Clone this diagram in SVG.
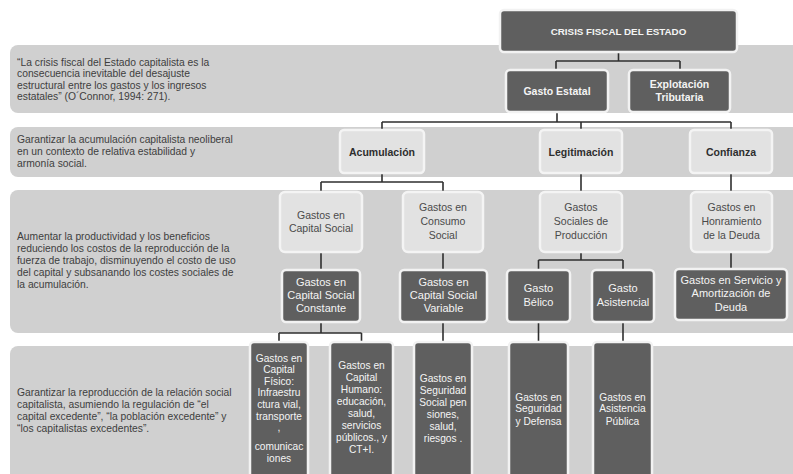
<svg xmlns="http://www.w3.org/2000/svg" width="793" height="474" viewBox="0 0 793 474">
<style>
.band{fill:#d0d0d0}
.lt{font-family:"Liberation Sans",Arial,sans-serif;font-size:10.3px;fill:#3e3e3e}
.dark rect{fill:#5f5f5f;stroke:#f2f2f2;stroke-width:2.5}
.light rect{fill:#e2e2e2;stroke:#f4f4f4;stroke-width:2.5}
.dark text{font-family:"Liberation Sans",Arial,sans-serif;font-size:11px;fill:#f4f4f4;text-anchor:middle}
.light text{font-family:"Liberation Sans",Arial,sans-serif;font-size:10.5px;fill:#4a4a4a;text-anchor:middle}
.b text{font-weight:bold;font-size:10.5px}
.light.b text{fill:#2e2e2e}
.sm text{font-size:10.2px}
#connectors path{fill:none;stroke:#2f2f2f;stroke-width:1.6}
</style>
<rect width="793" height="474" fill="#ffffff"/>
<g id="bands">
<rect class="band" x="10" y="45" width="800" height="68" rx="8"/>
<rect class="band" x="10" y="127" width="800" height="50" rx="8"/>
<rect class="band" x="10" y="190" width="800" height="143" rx="8"/>
<rect class="band" x="10" y="346" width="800" height="140" rx="8"/>
</g>
<g id="band-texts">
<text class="lt" x="17" y="65.5">“La crisis fiscal del Estado capitalista es la</text>
<text class="lt" x="17" y="77">consecuencia inevitable del desajuste</text>
<text class="lt" x="17" y="88.5">estructural entre los gastos y los ingresos</text>
<text class="lt" x="17" y="100">estatales” (O´Connor, 1994: 271).</text>
<text class="lt" x="17" y="142.5">Garantizar la acumulación capitalista neoliberal</text>
<text class="lt" x="17" y="154.5">en un contexto de  relativa estabilidad y</text>
<text class="lt" x="17" y="166.5">armonía social.</text>
<text class="lt" x="17" y="239.5">Aumentar la productividad y los beneficios</text>
<text class="lt" x="17" y="251.5">reduciendo los costos de la reproducción de la</text>
<text class="lt" x="17" y="263.5">fuerza de trabajo, disminuyendo el costo de uso</text>
<text class="lt" x="17" y="275.5">del capital y subsanando los costes sociales  de</text>
<text class="lt" x="17" y="287.5">la acumulación.</text>
<text class="lt" x="17" y="395.5">Garantizar la reproducción de la relación social</text>
<text class="lt" x="17" y="407.5">capitalista, asumiendo la regulación de  “el</text>
<text class="lt" x="17" y="419.5">capital excedente”,  “la población excedente” y</text>
<text class="lt" x="17" y="431.5">“los capitalistas excedentes”.</text>
</g>
<g id="connectors">
<path d="M618.5 52V61M556 61H680M556 61V70M680 61V70"/>
<path d="M557 112V122M382 122H731M382 122V130M581 122V130M731 122V130"/>
<path d="M382 173V182M321 182H443M321 182V192M443 182V192"/>
<path d="M581 173V192"/>
<path d="M731 173V192"/>
<path d="M321 252V270M443 252V270"/>
<path d="M581 252V260M538.5 260H623M538.5 260V270M623 260V270"/>
<path d="M731 252V269"/>
<path d="M321 322V333M279 333H361.5M279 333V342M361.5 333V342"/>
<path d="M443 322V342"/>
<path d="M538.5 322V342"/>
<path d="M623 322V342"/>
</g>
<g id="crisis" class="dark b"><rect x="500" y="10" width="237" height="42" rx="4"/><text x="618.5" y="34.5" style="font-size:9.8px">CRISIS FISCAL DEL ESTADO</text></g>
<g id="gasto-estatal" class="dark b"><rect x="506" y="70" width="102" height="42" rx="4"/><text x="557" y="94.5">Gasto Estatal</text></g>
<g id="explotacion" class="dark b"><rect x="629" y="70" width="101" height="42" rx="4"/><text x="679.5" y="87.5">Explotación</text><text x="679.5" y="100.5">Tributaria</text></g>
<g id="acumulacion" class="light b"><rect x="340" y="130" width="84" height="43" rx="4"/><text x="382" y="155.5">Acumulación</text></g>
<g id="legitimacion" class="light b"><rect x="540" y="130" width="82" height="43" rx="4"/><text x="581" y="155.5">Legitimación</text></g>
<g id="confianza" class="light b"><rect x="690" y="130" width="82" height="43" rx="4"/><text x="731" y="155.5">Confianza</text></g>
<g id="capital-social" class="light"><rect x="280" y="192" width="82" height="60" rx="5"/><text x="321" y="218.5">Gastos en</text><text x="321" y="231.5">Capital Social</text></g>
<g id="consumo-social" class="light"><rect x="403" y="192" width="80" height="60" rx="5"/><text x="443" y="210.5">Gastos en</text><text x="443" y="224.5">Consumo</text><text x="443" y="238.5">Social</text></g>
<g id="sociales-produccion" class="light"><rect x="540" y="192" width="82" height="60" rx="5"/><text x="581" y="210.5">Gastos</text><text x="581" y="224.5">Sociales de</text><text x="581" y="238.5">Producción</text></g>
<g id="honramiento" class="light"><rect x="691" y="192" width="81" height="60" rx="5"/><text x="731.5" y="210.5">Gastos en</text><text x="731.5" y="224.5">Honramiento</text><text x="731.5" y="238.5">de la Deuda</text></g>
<g id="constante" class="dark"><rect x="282" y="270" width="78" height="52" rx="4"/><text x="321" y="285.5">Gastos en</text><text x="321" y="298.5">Capital Social</text><text x="321" y="311.5">Constante</text></g>
<g id="variable" class="dark"><rect x="400" y="270" width="87" height="52" rx="4"/><text x="443.5" y="285.5">Gastos en</text><text x="443.5" y="298.5">Capital Social</text><text x="443.5" y="311.5">Variable</text></g>
<g id="belico" class="dark"><rect x="507" y="270" width="63" height="52" rx="4"/><text x="538.5" y="291.5">Gasto</text><text x="538.5" y="305.5">Bélico</text></g>
<g id="asistencial" class="dark"><rect x="592" y="270" width="62" height="52" rx="4"/><text x="623" y="291.5">Gasto</text><text x="623" y="305.5">Asistencial</text></g>
<g id="servicio-deuda" class="dark"><rect x="675" y="269" width="112" height="51" rx="4"/><text x="731" y="283.5">Gastos en Servicio y</text><text x="731" y="296.5">Amortización de</text><text x="731" y="310.5">Deuda</text></g>
<g id="capital-fisico" class="dark sm"><rect x="250" y="342" width="58" height="140" rx="4"/><text x="279" y="361.5">Gastos en</text><text x="279" y="373">Capital</text><text x="279" y="384.5">Físico:</text><text x="279" y="396">Infraestru</text><text x="279" y="407.5">ctura vial,</text><text x="279" y="419.5">transporte</text><text x="279" y="431">,</text><text x="279" y="450">comunicac</text><text x="279" y="462">iones</text></g>
<g id="capital-humano" class="dark sm"><rect x="330" y="342" width="63" height="140" rx="4"/><text x="361.5" y="368.5">Gastos en</text><text x="361.5" y="380.5">Capital</text><text x="361.5" y="392.5">Humano:</text><text x="361.5" y="404.5">educación,</text><text x="361.5" y="416.5">salud,</text><text x="361.5" y="428.5">servicios</text><text x="361.5" y="440.5">públicos., y</text><text x="361.5" y="452.5">CT+I.</text></g>
<g id="seguridad-social" class="dark sm"><rect x="414" y="342" width="58" height="140" rx="4"/><text x="443" y="381.5">Gastos en</text><text x="443" y="393.5">Seguridad</text><text x="443" y="405.5">Social pen</text><text x="443" y="417.5">siones,</text><text x="443" y="429.5">salud,</text><text x="443" y="442">riesgos .</text></g>
<g id="seguridad-defensa" class="dark sm"><rect x="509" y="342" width="59" height="140" rx="4"/><text x="538.5" y="400.5">Gastos en</text><text x="538.5" y="412">Seguridad</text><text x="538.5" y="424.5">y Defensa</text></g>
<g id="asistencia-publica" class="dark sm"><rect x="593" y="342" width="59" height="140" rx="4"/><text x="622.5" y="400.5">Gastos en</text><text x="622.5" y="412">Asistencia</text><text x="622.5" y="424.5">Pública</text></g>
</svg>
